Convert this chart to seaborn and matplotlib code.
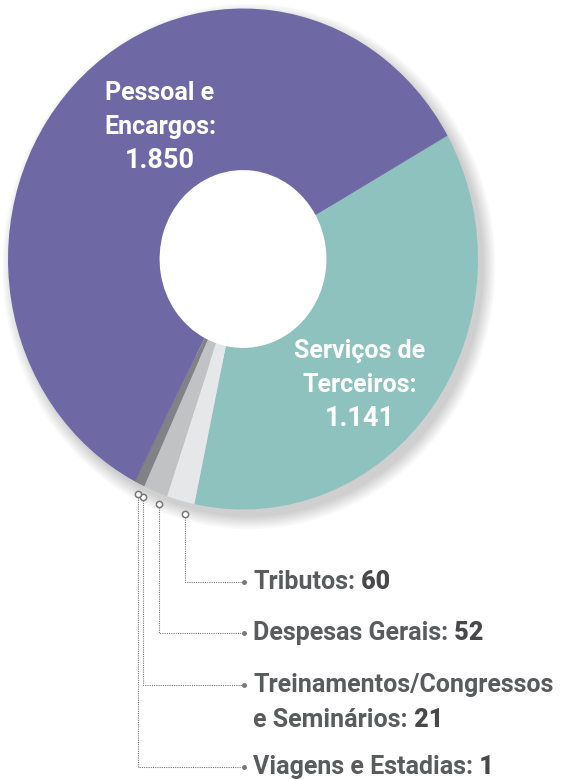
import numpy as np
import matplotlib
matplotlib.use("Agg")
import matplotlib.pyplot as plt
from matplotlib import font_manager
import seaborn as sns

# Data
categories = ["Serviços de Terceiros", "Tributos", "Despesas Gerais",
              "Treinamentos/Congressos e Seminários", "Viagens e Estadias",
              "Pessoal e Encargos"]
values = [1141, 60, 52, 21, 1, 1850]
colors = ["#8ec2be", "#e6e7e8", "#c1c2c4", "#818286", "#3b3b3e", "#6e68a5"]
pessoal_lines = ["Pessoal e", "Encargos:", "1.850"]
servicos_lines = ["Serviços de", "Terceiros:", "1.141"]
side_names = ["Tributos:", "Despesas Gerais:", "e Seminários:", "Viagens e Estadias:"]
side_values = ["60", "52", "21", "1"]
side_y = [582, 633, 685, 767]

sns.set_style("white")
installed = {f.name for f in font_manager.fontManager.ttflist}
fam = [f for f in ["Liberation Sans Narrow", "Roboto", "Open Sans"] if f in installed]
plt.rcParams["font.family"] = fam + ["DejaVu Sans"]

W, H = 563, 780
fig = plt.figure(figsize=(W / 100, H / 100), dpi=100)

# donut geometry in pixels
cx, cy, rx, ry = 243, 259, 235, 250.5

pie_ax = fig.add_axes([(cx - rx) / W, 1 - (cy + ry) / H, 2 * rx / W, 2 * ry / H])
# soft shadow
for k in range(8):
    s = 1.0 + 0.007 * k
    pie_ax.pie([1], radius=s, center=(0.025, -0.03), colors=["#000000"],
               wedgeprops=dict(width=s - 0.42, alpha=0.022, linewidth=0))

start = 29.5
wedges, _ = pie_ax.pie(values, colors=colors, startangle=start, counterclock=False,
                       wedgeprops=dict(width=0.645, linewidth=0))
# light radial gradient, brighter toward the hole (stacked thin white layers)
n = 48
for i in range(1, n):
    r = 1 - i * 0.645 / n
    pie_ax.pie([1], radius=r, colors=["white"],
               wedgeprops=dict(width=r - 0.355, alpha=0.0024, linewidth=0))
pie_ax.set_aspect("auto")
pie_ax.set_xlim(-1, 1)
pie_ax.set_ylim(-1, 1)
pie_ax.axis("off")

# overlay axes in pixel coords
ov = fig.add_axes([0, 0, 1, 1])
ov.set_xlim(0, W)
ov.set_ylim(H, 0)
ov.axis("off")

for lines, x0, y0 in [(pessoal_lines, 160, 93), (servicos_lines, 360, 351)]:
    for j, line in enumerate(lines):
        ov.text(x0, y0 + 34 * j, line, color="white", fontsize=18 if j < 2 else 19.5,
                fontweight="bold", ha="center", va="center")

# connectors for small slices
total = sum(values)
small = categories[1:5]
ang = start
mids = {}
for cat, v in zip(categories, values):
    span = v / total * 360
    mids[cat] = ang - span / 2
    ang -= span

gray = "#5a5b5d"
for cat, name, num, y in zip(small, side_names, side_values, side_y):
    th = np.radians(mids[cat])
    px = cx + rx * 1.03 * np.cos(th) + 6
    py = cy - ry * 1.03 * np.sin(th) + 6
    ov.plot([px, px, 242], [py + 3, y, y], ls=(0, (1, 1)), lw=0.8, color="#777777")
    ov.plot(px, py, marker="o", ms=4.5, mfc="white", mec="#777777", mew=1.1)
    ov.plot(244, y, marker="o", ms=2.5, color="#777777")
    ty = y
    if name == "e Seminários:":
        ov.text(253, y, "Treinamentos/Congressos", color=gray, fontsize=18,
                fontweight="bold", ha="left", va="center")
        ty = y + 35
    t = ov.text(253, ty, name, color=gray, fontsize=18, fontweight="bold",
                ha="left", va="center")
    ov.annotate(" " + num, xy=(1, 0), xycoords=t, va="bottom", ha="left",
                color="#48484a", fontsize=18, fontweight="heavy")

fig.savefig("out.png", dpi=100, facecolor="white")
